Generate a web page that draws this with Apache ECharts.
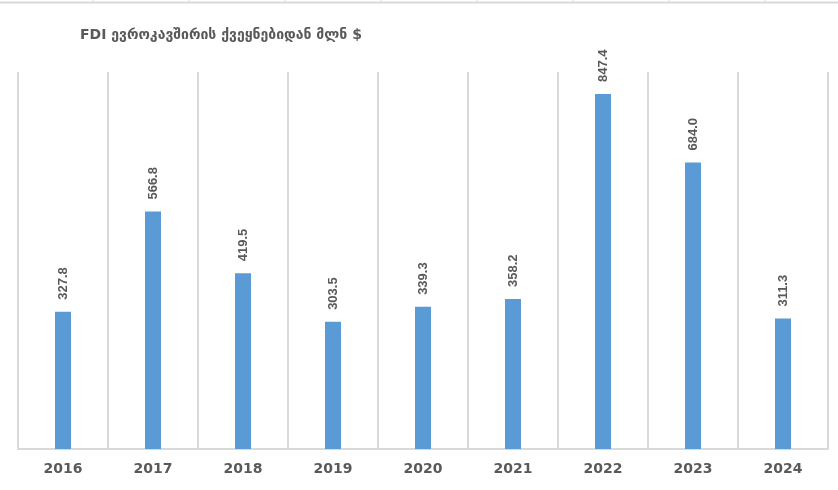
<!DOCTYPE html>
<html>
<head>
<meta charset="utf-8">
<script src="https://cdn.jsdelivr.net/npm/echarts@6/dist/echarts.min.js"></script>
<style>html,body{margin:0;padding:0;background:#fff}#c{width:838px;height:490px}</style>
</head>
<body>
<div id="c"></div>
<script>
const titleText = "FDI ევროკავშირის ქვეყნებიდან მლნ $";
const categories = ["2016","2017","2018","2019","2020","2021","2022","2023","2024"];
const values = [327.8, 566.8, 419.5, 303.5, 339.3, 358.2, 847.4, 684.0, 311.3];

const chart = echarts.init(document.getElementById('c'));
const topTicks = [];
for (let x = 93; x < 838; x += 96) {
  topTicks.push({type:'line', shape:{x1:x,y1:0,x2:x,y2:2}, style:{stroke:'#d9d9d9', lineWidth:1}, silent:true});
}
chart.setOption({
  animation: false,
  backgroundColor: '#fff',
  title: {
    text: titleText,
    left: 80, top: 28, padding: 0,
    textStyle: {fontFamily: 'DejaVu Sans', fontSize: 14, fontWeight: 'bold', color: '#595959'}
  },
  graphic: [
    {type:'line', shape:{x1:0,y1:2.5,x2:838,y2:2.5}, style:{stroke:'#d9d9d9', lineWidth:2}, silent:true}
  ].concat(topTicks),
  grid: {left: 18, right: 10, top: 72, bottom: 41, containLabel: false},
  xAxis: {
    type: 'category',
    data: categories,
    boundaryGap: true,
    axisLine: {show: true, lineStyle: {color: '#d9d9d9', width: 2}},
    axisTick: {show: false},
    splitLine: {show: true, lineStyle: {color: '#d9d9d9', width: 2}},
    axisLabel: {
      margin: 13,
      color: '#595959', fontWeight: 'bold', fontSize: 14,
      fontFamily: 'DejaVu Sans'
    }
  },
  yAxis: {
    type: 'value', min: 0, max: 900, show: false,
    splitLine: {show: false}
  },
  series: [{
    type: 'bar',
    data: values,
    barWidth: 16,
    itemStyle: {color: '#5b9bd5'},
    label: {
      show: true,
      position: 'top',
      rotate: 90,
      distance: 12,
      align: 'left',
      verticalAlign: 'middle',
      formatter: p => p.value.toFixed(1),
      color: '#595959', fontWeight: 'bold', fontSize: 13,
      fontFamily: 'Liberation Sans, Arial'
    }
  }]
});
</script>
</body>
</html>
